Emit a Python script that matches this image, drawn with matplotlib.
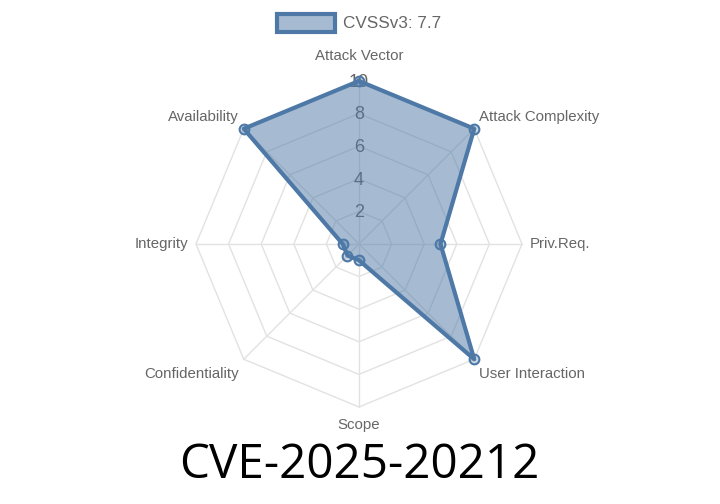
import numpy as np
import matplotlib
matplotlib.use("Agg")
import matplotlib.pyplot as plt
from matplotlib.patches import Rectangle
from matplotlib.transforms import offset_copy

labels = ["Attack Vector", "Attack Complexity", "Priv.Req.", "User Interaction",
          "Scope", "Confidentiality", "Integrity", "Availability"]
values = [10, 10, 5, 10, 1, 1, 1, 10]
ticks = [2, 4, 6, 8, 10]
legend_label = "CVSSv3: 7.7"
title = "CVE-2025-20212"

line_col = "#4e79a7"
fill_col = (78 / 255, 121 / 255, 167 / 255, 0.5)
grid_col = "#e2e2e2"
text_col = "#666666"

plt.rcParams["font.family"] = ["Liberation Sans", "DejaVu Sans"]

fig = plt.figure(figsize=(7.2, 5.04), dpi=100)
ax = fig.add_axes([0.2722, 0.1925, 0.4528, 0.6468], projection="polar")
ax.set_theta_zero_location("N")
ax.set_theta_direction(-1)
ax.set_ylim(0, 10)
ax.grid(False)
ax.spines["polar"].set_visible(False)
ax.set_xticks([])
ax.set_yticks([])
ax.patch.set_alpha(0)

n = len(labels)
angles = np.arange(n) * 2 * np.pi / n
closed = np.append(angles, angles[0])

# polygon rings and spokes
for t in ticks:
    ax.plot(closed, [t] * (n + 1), color=grid_col, lw=1, zorder=1, clip_on=False)
for a in angles:
    ax.plot([a, a], [0, 10], color=grid_col, lw=1, zorder=1, clip_on=False)

# tick labels along the top axis
for t in ticks:
    ax.text(0, t - 0.08, str(t), ha="center", va="center", fontsize=13,
            color=text_col, zorder=2)

# data
vals = np.append(values, values[0])
ax.fill(closed, vals, color=fill_col, zorder=3, clip_on=False)
ax.plot(closed, vals, color=line_col, lw=3.0, zorder=4, clip_on=False)
ax.plot(angles, values, "o", ms=7, mfc=(78 / 255, 121 / 255, 167 / 255, 0.3),
        mec=line_col, mew=1.5, zorder=5, clip_on=False)

# point labels
down = offset_copy(ax.transData, fig=fig, x=0, y=-3, units="dots")
for a, lab in zip(angles, labels):
    s, c = np.sin(a), np.cos(a)
    ha = "center" if abs(s) < 0.01 else ("left" if s > 0 else "right")
    va = "center" if abs(c) < 0.01 else ("bottom" if c > 0 else "top")
    tr = ax.transData
    if c > 0.99:
        r = 11.1
    elif c < -0.99:
        r = 10.65
    elif c < -0.01:
        r, tr = 10.45, down
    else:
        r = 10.45
    ax.text(a, r, lab, ha=ha, va=va, fontsize=10.8, color=text_col,
            transform=tr, clip_on=False)

# legend
fig.patches.append(Rectangle((277 / 720, 1 - 32 / 504), 58 / 720, 18 / 504,
                             transform=fig.transFigure, facecolor=fill_col,
                             edgecolor=line_col, lw=3))
fig.text(343 / 720, 1 - 23 / 504, legend_label, ha="left", va="center",
         fontsize=12.3, color=text_col)

fig.text(0.4986, 1 - 465 / 504, title, ha="center", va="center",
         fontsize=34.3, color="black", family=["Open Sans", "DejaVu Sans"])

fig.savefig("out.png", dpi=100)
